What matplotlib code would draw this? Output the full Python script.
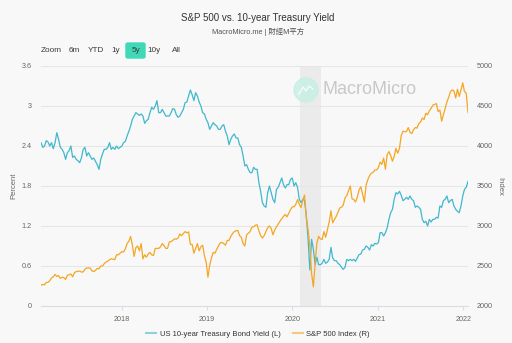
import matplotlib
matplotlib.use('Agg')
import matplotlib.pyplot as plt
import matplotlib.dates as mdates
from matplotlib.patches import Circle, FancyBboxPatch
from matplotlib.lines import Line2D
from matplotlib.transforms import IdentityTransform
import pandas as pd
import numpy as np

plt.rcParams['font.family'] = ['Liberation Sans', 'Noto Sans CJK TC', 'DejaVu Sans']

# US 10-year Treasury yield (%), roughly weekly, Jan 2017 -> Jan 2022
yield_2017 = [2.45, 2.38, 2.40, 2.48, 2.46, 2.40, 2.45, 2.36, 2.45, 2.60, 2.50, 2.38,
              2.35, 2.30, 2.20, 2.30, 2.33, 2.40, 2.23, 2.25, 2.20, 2.18, 2.15, 2.22,
              2.35, 2.38, 2.25, 2.30, 2.25, 2.20, 2.22, 2.17, 2.12, 2.05, 2.20, 2.28,
              2.35, 2.35, 2.38, 2.45, 2.35, 2.38, 2.35, 2.40, 2.36, 2.38, 2.40, 2.45]
yield_2018 = [2.47, 2.55, 2.62, 2.70, 2.80, 2.85, 2.90, 2.88, 2.86, 2.88, 2.85, 2.74,
              2.78, 2.80, 2.90, 2.98, 2.95, 3.00, 3.08, 2.90, 2.90, 2.95, 2.90, 2.85,
              2.85, 2.85, 2.90, 2.96, 2.95, 2.87, 2.83, 2.85, 2.90, 2.95, 3.05, 3.06,
              3.15, 3.24, 3.17, 3.08, 3.20, 3.15, 3.06, 3.00, 2.90, 2.88, 2.80, 2.75]
yield_2019 = [2.65, 2.70, 2.75, 2.72, 2.70, 2.65, 2.65, 2.70, 2.72, 2.62, 2.55, 2.42,
              2.50, 2.55, 2.58, 2.52, 2.52, 2.42, 2.38, 2.25, 2.10, 2.12, 2.05, 2.00,
              2.00, 2.08, 2.05, 2.05, 1.85, 1.72, 1.55, 1.50, 1.48, 1.70, 1.80, 1.70,
              1.60, 1.55, 1.75, 1.78, 1.85, 1.92, 1.82, 1.77, 1.82, 1.82, 1.90, 1.92]
yield_2020 = [1.80, 1.85, 1.78, 1.60, 1.55, 1.60, 1.58, 1.35, 1.00, 0.54, 1.00, 0.85,
              0.62, 0.73, 0.62, 0.62, 0.64, 0.70, 0.64, 0.66, 0.70, 0.88, 0.72, 0.68,
              0.68, 0.64, 0.62, 0.58, 0.55, 0.58, 0.70, 0.68, 0.70, 0.68, 0.70, 0.67,
              0.72, 0.77, 0.78, 0.84, 0.85, 0.90, 0.88, 0.84, 0.92, 0.90, 0.94, 0.93]
yield_2021 = [0.95, 1.10, 1.10, 1.05, 1.10, 1.17, 1.30, 1.40, 1.45, 1.60, 1.70, 1.68,
              1.72, 1.66, 1.58, 1.60, 1.63, 1.60, 1.65, 1.60, 1.58, 1.48, 1.50, 1.48,
              1.45, 1.30, 1.25, 1.27, 1.20, 1.30, 1.26, 1.30, 1.30, 1.33, 1.32, 1.50,
              1.48, 1.58, 1.60, 1.65, 1.55, 1.58, 1.60, 1.50, 1.45, 1.42, 1.40, 1.50]
yield_2022 = [1.65, 1.75, 1.78, 1.87]

# S&P 500 index
spx_2017 = [2258, 2270, 2265, 2295, 2295, 2316, 2350, 2365, 2395, 2370, 2380, 2345,
            2360, 2355, 2330, 2385, 2390, 2400, 2365, 2415, 2430, 2435, 2435, 2425,
            2425, 2460, 2475, 2475, 2475, 2440, 2430, 2445, 2470, 2465, 2500, 2500,
            2530, 2550, 2560, 2580, 2590, 2585, 2580, 2640, 2640, 2660, 2680, 2675]
spx_2018 = [2715, 2780, 2810, 2870, 2760, 2620, 2730, 2750, 2690, 2780, 2590, 2640,
            2610, 2650, 2670, 2640, 2630, 2720, 2720, 2720, 2740, 2780, 2755, 2720,
            2720, 2800, 2805, 2820, 2840, 2835, 2850, 2900, 2880, 2905, 2930, 2915,
            2925, 2770, 2770, 2660, 2720, 2780, 2690, 2740, 2760, 2630, 2550, 2360]
spx_2019 = [2510, 2600, 2670, 2660, 2710, 2750, 2790, 2795, 2780, 2760, 2820, 2820,
            2870, 2905, 2930, 2940, 2945, 2880, 2860, 2780, 2750, 2890, 2910, 2930,
            2985, 2990, 3010, 3015, 2940, 2880, 2850, 2880, 2930, 2980, 3000, 2970,
            2890, 2950, 2990, 3025, 3060, 3090, 3120, 3145, 3115, 3160, 3205, 3240]
spx_2020 = [3240, 3270, 3330, 3270, 3230, 3330, 3385, 3100, 2950, 2750, 2400, 2240,
            2530, 2790, 2870, 2840, 2830, 2930, 2860, 2955, 3050, 3190, 3040, 3080,
            3120, 3170, 3225, 3235, 3260, 3350, 3380, 3440, 3500, 3340, 3330, 3300,
            3360, 3450, 3490, 3400, 3300, 3510, 3580, 3630, 3660, 3670, 3700, 3700]
spx_2021 = [3730, 3800, 3770, 3850, 3710, 3890, 3930, 3880, 3810, 3870, 3970, 3910,
            3970, 4130, 4185, 4180, 4180, 4230, 4170, 4155, 4205, 4230, 4225, 4280,
            4300, 4350, 4330, 4410, 4390, 4440, 4470, 4510, 4520, 4530, 4430, 4450,
            4310, 4390, 4470, 4550, 4610, 4680, 4700, 4690, 4600, 4710, 4620, 4700]
spx_2022 = [4790, 4680, 4660, 4420]

yields = yield_2017 + yield_2018 + yield_2019 + yield_2020 + yield_2021 + yield_2022
spx = spx_2017 + spx_2018 + spx_2019 + spx_2020 + spx_2021 + spx_2022
dates = pd.date_range('2017-01-20', '2022-01-21', periods=len(yields))

recession = ('2020-02-01', '2020-05-01')
yield_ticks = [0, 0.6, 1.2, 1.8, 2.4, 3, 3.6]
spx_ticks = [2000, 2500, 3000, 3500, 4000, 4500, 5000]

teal = '#3fb8cd'
orange = '#f5a623'
bg = '#f8f8f8'
W, H = 512, 343

fig = plt.figure(figsize=(W / 100, H / 100), dpi=100, facecolor=bg)
ax = fig.add_axes([41 / W, 1 - 306 / H, (468 - 41) / W, (306 - 66) / H])
ax.set_facecolor(bg)

ax.axvspan(pd.Timestamp(recession[0]), pd.Timestamp(recession[1]), color='#ebebeb', lw=0, zorder=0)
ax.plot(dates, yields, color=teal, lw=0.9, zorder=3)
ax.set_ylim(0, 3.6)
ax.set_yticks(yield_ticks)
ax.yaxis.set_major_formatter(plt.FormatStrFormatter('%g'))
ax.set_xlim(pd.Timestamp('2017-01-20'), pd.Timestamp('2022-01-21'))
ax.xaxis.set_major_locator(mdates.YearLocator())
ax.xaxis.set_major_formatter(mdates.DateFormatter('%Y'))
ax.grid(axis='y', color='#e6e6e6', lw=0.8)
ax.set_axisbelow(True)
for s in ['top', 'right', 'left']:
    ax.spines[s].set_visible(False)
ax.spines['bottom'].set_color('#d8dde6')
ax.spines['bottom'].set_linewidth(0.8)
ax.tick_params(axis='y', length=0, labelsize=5.2, labelcolor='#666666', pad=6.5)
ax.tick_params(axis='x', length=3, color='#d8dde6', labelsize=5.2, labelcolor='#666666', pad=4)
ax.set_ylabel('Percent', fontsize=5.5, color='#666666', labelpad=3)

ax2 = ax.twinx()
ax2.plot(dates, spx, color=orange, lw=0.9, zorder=3)
ax2.set_ylim(2000, 5000)
ax2.set_yticks(spx_ticks)
for s in ['top', 'right', 'left', 'bottom']:
    ax2.spines[s].set_visible(False)
ax2.tick_params(axis='y', length=0, labelsize=5.2, labelcolor='#666666', pad=6.5)
ax2.set_ylabel('Index', fontsize=5.5, color='#666666', rotation=270, labelpad=7)

# watermark
tr = IdentityTransform()
fig.patches.append(Circle((306, H - 90), 12, transform=tr, color='#c6efe4', alpha=0.8, zorder=5))
fig.lines.append(Line2D([299, 303, 306, 309, 313], [H - 94, H - 87, H - 91, H - 86, H - 89],
                        transform=tr, color='white', lw=0.8, zorder=6))
fig.text(323 / W, 1 - 90 / H, 'MacroMicro', fontsize=13, color='#c8c8c8', va='center', ha='left', zorder=6)

# titles
fig.text(258 / W, 1 - 18 / H, 'S&P 500 vs. 10-year Treasury Yield', fontsize=7, color='#333333', ha='center', va='center')
fig.text(258 / W, 1 - 32 / H, 'MacroMicro.me | 財經M平方', fontsize=5.3, color='#555555', ha='center', va='center')

# range selector
fig.patches.append(FancyBboxPatch((126 / W, 1 - 58 / H), 19 / W, 15 / H, boxstyle='round,pad=0,rounding_size=0.004',
                                  transform=fig.transFigure, color='#40d9b8', zorder=1))
buttons = [('Zoom', 41), ('6m', 69), ('YTD', 88), ('1y', 111), ('5y', 132), ('10y', 147), ('All', 172)]
for label, x in buttons:
    fig.text(x / W, 1 - 51 / H, label, fontsize=5.9, color='#3a3a3a', ha='left', va='center', zorder=2)

# legend
handles = [Line2D([], [], color='#8fd0dd', lw=1.5), Line2D([], [], color='#f7c878', lw=1.5)]
fig.legend(handles, ['US 10-year Treasury Bond Yield (L)', 'S&P 500 Index (R)'],
           loc='center', bbox_to_anchor=(258 / W, 1 - 334 / H), ncol=2, frameon=False,
           fontsize=5.5, handlelength=1.3, handletextpad=0.5, columnspacing=1.6,
           labelcolor='#333333')

fig.savefig('out.png', dpi=100, facecolor=bg)
